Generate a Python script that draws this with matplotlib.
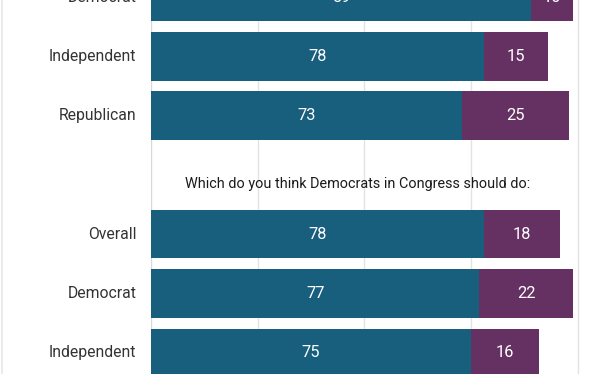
import matplotlib
matplotlib.use("Agg")
import matplotlib.pyplot as plt

plt.rcParams['font.family'] = ['Roboto', 'DejaVu Sans']

# Data (slots top to bottom; None marks the question heading slot)
labels = ["Democrat", "Independent", "Republican", None, "Overall", "Democrat", "Independent"]
first_vals = [89, 78, 73, None, 78, 77, 75]
second_vals = [10, 15, 25, None, 18, 22, 16]
heading = "Which do you think Democrats in Congress should do:"
grid_ticks = [25, 50, 75, 100]

blue = "#185e7d"
purple = "#653163"

fig = plt.figure(figsize=(6.12, 3.74), dpi=100)
W, H = 612, 374
x0 = 151
px_per_unit = 4.265
xmax = (W - x0) / px_per_unit
ax = fig.add_axes([x0 / W, 0, 1 - x0 / W, 1])

pitch = 59.3
top_offset = -3.0
ax.set_ylim((H - top_offset) / pitch, (0 - top_offset) / pitch)
ax.set_xlim(0, xmax)

bar_h = 48.4 / pitch
for i, (lab, a, b) in enumerate(zip(labels, first_vals, second_vals)):
    if lab is None:
        ax.text(48.4, i + 0.15, heading, ha="center", va="center",
                fontsize=10.35, color="#1a1a1a")
        continue
    ax.barh(i, a, height=bar_h, color=blue, edgecolor="none", zorder=2)
    ax.barh(i, b, left=a, height=bar_h, color=purple, edgecolor="none", zorder=2)
    ax.text(a / 2, i, str(a), ha="center", va="center", color="white", fontsize=11.8, zorder=3)
    ax.text(a + b / 2, i, str(b), ha="center", va="center", color="white", fontsize=11.8, zorder=3)
    ax.text(-3.4, i, lab, ha="right", va="center", color="#333333", fontsize=11.3,
            clip_on=False)

for g in grid_ticks:
    ax.axvline(g, color="#e3e3e3", linewidth=1.0, zorder=1)
ax.axvline(0, color="#d8d8d8", linewidth=1.0, zorder=1)

for s in ax.spines.values():
    s.set_visible(False)
ax.set_xticks([])
ax.set_yticks([])

# left border of the card
fig.add_artist(plt.Line2D([1.5 / W, 1.5 / W], [0, 1], color="#e6e6e6", linewidth=1.2))

fig.savefig("out.png", dpi=100)
